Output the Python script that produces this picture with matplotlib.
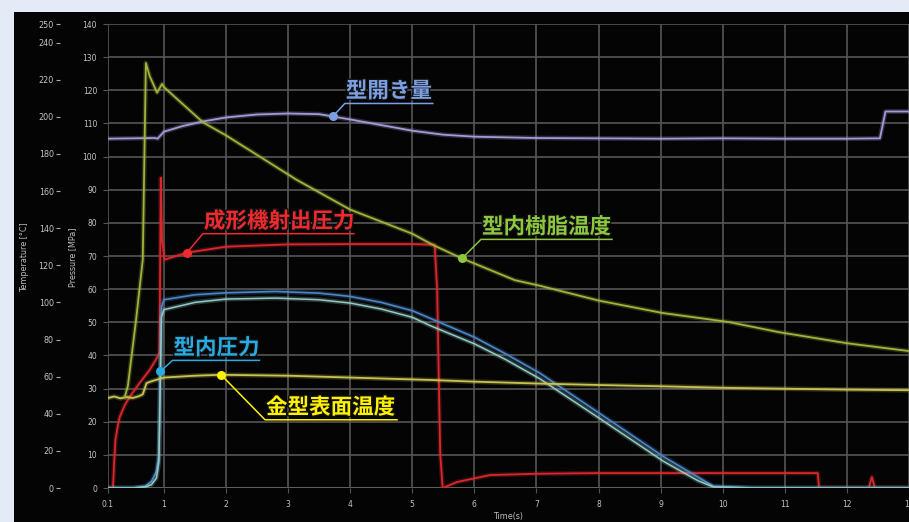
import numpy as np
import matplotlib
matplotlib.use("Agg")
import matplotlib.pyplot as plt
from matplotlib.patches import Rectangle
from matplotlib.lines import Line2D
import matplotlib.patheffects as pe

# ---------------- data ----------------
# 型開き量 (mold opening) - plotted on pressure scale
open_t = [0.1, 0.5, 0.85, 0.9, 1.0, 1.3, 1.63, 2.0, 2.5, 3.0, 3.5, 3.72, 4.0, 4.5,
          5.0, 5.5, 6.0, 7.0, 8.0, 9.0, 10.0, 11.0, 12.0, 12.53, 12.62, 13.3]
open_v = [105.4, 105.5, 105.6, 105.4, 107.5, 109.2, 110.6, 111.8, 112.7, 113.0, 112.8,
          112.1, 111.2, 109.5, 107.8, 106.6, 106.0, 105.6, 105.5, 105.4, 105.5, 105.4,
          105.4, 105.5, 113.6, 113.6]

# 型内樹脂温度 (resin temperature, °C)
resin_t = [0.37, 0.42, 0.55, 0.66, 0.71, 0.77, 0.89, 0.97, 1.0, 1.63, 2.0, 3.14, 4.0,
           5.0, 5.33, 5.78, 6.65, 7.05, 8.0, 9.03, 10.1, 10.9, 12.0, 13.3]
resin_v = [49, 55, 90, 123, 229, 222, 213, 217.7, 216, 197, 190, 166, 150,
           137, 131, 124, 112, 109, 101, 94.3, 89.4, 84, 78, 72.5]

# 成形機射出圧力 (machine injection pressure, MPa)
inj_t = [0.1, 0.18, 0.2, 0.22, 0.26, 0.29, 0.37, 0.45, 0.61, 0.77, 0.89, 0.93, 0.95,
         0.97, 1.01, 1.37, 2.0, 3.0, 4.0, 5.0, 5.36, 5.40, 5.45, 5.49, 5.72, 6.25, 7.0,
         8.0, 9.0, 10.0, 11.0, 11.53, 11.55, 12.35, 12.4, 12.45, 13.3]
inj_v = [0, 0, 8, 14.5, 19, 21.5, 25, 27.5, 31.7, 35.6, 39.3, 41, 93.6,
         75, 68.9, 71, 72.8, 73.5, 73.6, 73.6, 73.4, 60, 10, 0, 1.8, 3.9, 4.3,
         4.5, 4.5, 4.5, 4.5, 4.5, 0, 0, 3.3, 0, 0]

# 型内圧力 (cavity pressure, MPa) - two sensors
cav_t = [0.1, 0.5, 0.7, 0.8, 0.88, 0.92, 0.96, 1.0, 1.5, 2.0, 2.8, 3.5, 4.0, 4.5,
         5.0, 5.3, 6.0, 6.5, 7.05, 8.0, 9.05, 9.6, 9.85, 10.5, 11.0, 12.0, 13.3]
cav1_v = [0, 0, 0.5, 2, 5, 10, 54.5, 56.8, 58.3, 58.9, 59.3, 58.8, 57.8, 56,
          53.5, 51.1, 45.5, 40.5, 34.7, 22.7, 9.4, 3.3, 0.5, 0, 0, 0, 0]
cav2_v = [0, 0, 0.3, 1, 3, 8, 51.5, 53.8, 56, 57, 57.3, 56.8, 55.8, 54,
          51.5, 48.9, 43.5, 38.8, 33, 21.2, 8, 2.2, 0.3, 0, 0, 0, 0]

# 金型表面温度 (mold surface temperature, °C)
mold_t = [0.1, 0.2, 0.3, 0.4, 0.5, 0.6, 0.66, 0.72, 0.8, 1.0, 1.5, 1.92, 3.0, 4.0,
          5.3, 6.0, 7.0, 8.0, 9.0, 10.0, 11.0, 12.0, 13.3]
mold_v = [48.5, 49.3, 48.3, 49, 48.5, 49.5, 50.5, 56.5, 57.5, 59.5, 60.5, 61, 60.5,
          59.5, 58.2, 57.3, 56.3, 55.5, 54.8, 54, 53.5, 53.0, 52.6]

x_ticks = [0.1, 1, 2, 3, 4, 5, 6, 7, 8, 9, 10, 11, 12, 13]
x_tick_labels = ["0.1", "1", "2", "3", "4", "5", "6", "7", "8", "9", "10", "11", "12", "13"]
p_ticks = list(range(0, 141, 10))
t_ticks = [0, 20, 40, 60, 80, 100, 120, 140, 160, 180, 200, 220, 240, 250]

# ---------------- figure ----------------
W, H = 909, 522
fig = plt.figure(figsize=(W / 100, H / 100), dpi=100, facecolor="#e4eaf6")
fig.add_artist(Rectangle((14 / W, 0), 1, (H - 12) / H, transform=fig.transFigure,
                         facecolor="#040404", edgecolor="none", zorder=0))

x0, xpx = 108, 62.1
right_px = 918
ax = fig.add_axes([x0 / W, (H - 488) / H, (right_px - x0) / W, 464 / H])
ax.set_facecolor("none")
ax.set_xlim(0.1, 0.1 + (right_px - x0) / xpx)
ax.set_ylim(0, 140)
for s in ax.spines.values():
    s.set_visible(False)

gridc = "#555555"
ax.set_yticks(p_ticks)
ax.set_xticks(x_ticks)
ax.set_xticklabels(x_tick_labels)
ax.grid(True, color=gridc, lw=1.2)
ax.tick_params(axis="y", length=3.8, color=gridc, labelcolor="#c4c4c4", labelsize=5.5, pad=4)
ax.tick_params(axis="x", length=3.8, color=gridc, labelcolor="#c4c4c4", labelsize=5.5, pad=5)
ax.axhline(0, color="#9a9a9a", lw=1.3, zorder=1.5)

ax2 = ax.twinx()
ax2.set_ylim(0, 250)
ax2.yaxis.tick_left()
ax2.set_yticks(t_ticks)
for s in ax2.spines.values():
    s.set_visible(False)
ax2.spines["left"].set_position(("outward", 48 * 0.72))
ax2.tick_params(axis="y", length=3, color="#aaaaaa", labelcolor="#c4c4c4", labelsize=5.8,
                pad=1.5, left=True, right=False, labelleft=True, labelright=False)


def glow(c):
    return [pe.Stroke(linewidth=3.4, foreground=c, alpha=0.25), pe.Normal()]


c_open = "#a59ad8"
c_resin = "#a2b23c"
c_inj = "#d8282c"
c_cav1 = "#4a86c8"
c_cav2 = "#93cbc4"
c_mold = "#c8c452"

ax.plot(open_t, open_v, color=c_open, lw=1.3, path_effects=glow(c_open), zorder=3)
ax.plot(inj_t, inj_v, color=c_inj, lw=1.3, path_effects=glow(c_inj), zorder=3)
ax.plot(cav_t, cav1_v, color=c_cav1, lw=1.2, path_effects=glow(c_cav1), zorder=3)
ax.plot(cav_t, cav2_v, color=c_cav2, lw=1.1, path_effects=glow(c_cav2), zorder=3)
ax2.plot(mold_t, mold_v, color=c_mold, lw=1.3, path_effects=glow(c_mold), zorder=3)
ax2.plot(resin_t, resin_v, color=c_resin, lw=1.3, path_effects=glow(c_resin), zorder=3)

# axis titles
fig.text(25 / W, 1 - 257 / H, "Temperature [°C]", rotation=90, ha="center", va="center",
         fontsize=5.8, color="#bdbdbd")
fig.text(73 / W, 1 - 257 / H, "Pressure [MPa]", rotation=90, ha="center", va="center",
         fontsize=5.8, color="#bdbdbd")
fig.text(508 / W, 1 - 517 / H, "Time(s)", ha="center", va="center",
         fontsize=5.8, color="#bdbdbd")

# ---------------- annotations ----------------
cjk = ["Noto Sans CJK JP", "DejaVu Sans"]
fig.canvas.draw()

annots = [
    # label, color, axis, t, series_t, series_v, dx, dy, underline length (px)
    ("型開き量", "#7b9fe0", ax, 3.72, open_t, open_v, 12, 13, 88),
    ("成形機射出圧力", "#ee2a2e", ax, 1.37, inj_t, inj_v, 16, 19, 151),
    ("型内圧力", "#29abe2", ax, 0.945, cav_t, cav2_v, 12, 11, 87),
    ("金型表面温度", "#fff200", ax2, 1.92, mold_t, mold_v, 44, -45, 132),
    ("型内樹脂温度", "#8dc63f", ax2, 5.80, resin_t, resin_v, 19, 19, 131),
]
for label, col, a, t, st, sv, dx, dy, ln in annots:
    v = float(np.interp(t, st, sv))
    px, py = a.transData.transform((t, v))
    ex, ey = px + dx, py + dy
    fig.add_artist(Line2D([px / W, ex / W, (ex + ln) / W], [py / H, ey / H, ey / H],
                          transform=fig.transFigure, color=col, lw=1.1, zorder=10))
    fig.add_artist(Line2D([px / W], [py / H], transform=fig.transFigure, marker="o",
                          markersize=6.5, color=col, markeredgewidth=0, zorder=11))
    fig.text((ex + 1) / W, (ey + 2) / H, label, ha="left", va="bottom", fontsize=15.5,
             fontweight="bold", family=cjk, color=col, zorder=12,
             path_effects=[pe.withStroke(linewidth=2, foreground="#101010")])

fig.savefig("out.png", dpi=100, facecolor=fig.get_facecolor())
